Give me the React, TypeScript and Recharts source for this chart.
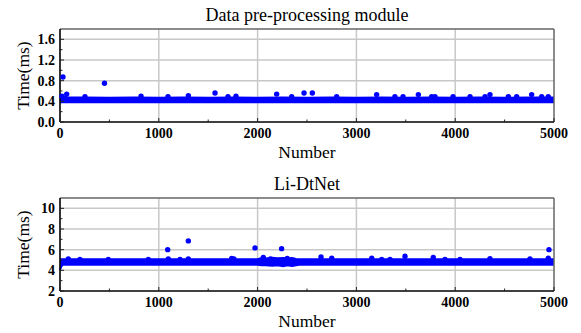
import React from 'react';
import { ComposedChart, Area, Scatter, XAxis, YAxis, ReferenceLine } from 'recharts';

// ---- shared x axis ----
const xTicks = [0, 500, 1000, 1500, 2000, 2500, 3000, 3500, 4000, 4500, 5000];
const xMajor = [1000, 2000, 3000, 4000];

// ---- top panel: Data pre-processing module ----
const topTitle = 'Data pre-processing module';
const topYTicks = [0, 0.2, 0.4, 0.6, 0.8, 1.0, 1.2, 1.4, 1.6];
const topYMajor = [0, 0.4, 0.8, 1.2, 1.6];
const topBandX = [0, 40, 80, 250, 500, 750, 1000, 1250, 1500, 1750, 2000, 2250, 2500, 2750, 3000, 3250, 3500, 3750, 4000, 4250, 4500, 4750, 5000];
const topBandLow = [0.38, 0.38, 0.38, 0.38, 0.38, 0.38, 0.38, 0.38, 0.38, 0.38, 0.38, 0.38, 0.38, 0.38, 0.38, 0.38, 0.38, 0.38, 0.38, 0.38, 0.38, 0.38, 0.38];
const topBandHigh = [0.51, 0.49, 0.48, 0.475, 0.47, 0.475, 0.47, 0.475, 0.47, 0.475, 0.47, 0.475, 0.47, 0.475, 0.47, 0.475, 0.47, 0.475, 0.47, 0.475, 0.47, 0.475, 0.475];
const topPointX = [30, 450, 20, 68, 253, 820, 1093, 1299, 1569, 1700, 1781, 2193, 2345, 2470, 2554, 2800, 3205, 3390, 3472, 3627, 3762, 3796, 3978, 4150, 4302, 4352, 4538, 4622, 4774, 4875, 4942];
const topPointY = [0.87, 0.75, 0.5, 0.54, 0.49, 0.5, 0.49, 0.51, 0.56, 0.49, 0.5, 0.54, 0.49, 0.56, 0.56, 0.49, 0.53, 0.49, 0.49, 0.53, 0.49, 0.49, 0.49, 0.49, 0.49, 0.53, 0.49, 0.49, 0.53, 0.49, 0.49];

// ---- bottom panel: Li-DtNet ----
const botTitle = 'Li-DtNet';
const botYTicks = [2, 3, 4, 5, 6, 7, 8, 9, 10];
const botYMajor = [2, 4, 6, 8, 10];
const botBandX = [0, 15, 30, 500, 1000, 1500, 2000, 2040, 2080, 2150, 2200, 2260, 2300, 2350, 2390, 2420, 2500, 3000, 3500, 4000, 4500, 5000];
const botBandLow = [4.05, 4.4, 4.55, 4.55, 4.55, 4.55, 4.55, 4.5, 4.5, 4.45, 4.5, 4.4, 4.5, 4.42, 4.5, 4.55, 4.55, 4.55, 4.55, 4.55, 4.55, 4.55];
const botBandHigh = [5.05, 5.08, 5.08, 5.08, 5.08, 5.08, 5.08, 5.2, 5.15, 5.22, 5.18, 5.2, 5.15, 5.2, 5.1, 5.08, 5.08, 5.08, 5.08, 5.08, 5.08, 5.08];
const botPointX = [1090, 1299, 1974, 2243, 4949, 84, 202, 489, 894, 1096, 1215, 1299, 1738, 1760, 2058, 2130, 2300, 2642, 2750, 3155, 3256, 3340, 3492, 3778, 3897, 4049, 4352, 4757, 4942];
const botPointY = [6.0, 6.85, 6.17, 6.1, 6.0, 5.1, 5.05, 5.05, 5.05, 5.1, 5.05, 5.1, 5.15, 5.1, 5.25, 5.1, 5.15, 5.3, 5.17, 5.18, 5.05, 5.05, 5.36, 5.25, 5.05, 5.05, 5.12, 5.1, 5.17];

const BLUE = '#0000ff';
const FONT = "'Liberation Serif', 'Times New Roman', Times, serif";

const isIn = (list: number[], v: number) => list.some((m) => Math.abs(m - v) < 1e-6);

const makeXTick = () => (props: any) => {
  const { x, y, payload } = props;
  const v = payload.value;
  const labelled = v % 1000 === 0;
  return (
    <g>
      <line x1={x} x2={x} y1={y} y2={y - (labelled ? 4 : 2.5)} stroke="#222" strokeWidth={1} />
      {labelled && (
        <text x={x} y={y + 15.5} textAnchor="middle" style={{ fontFamily: FONT, fontWeight: 700, fontSize: 14 }} fill="#000">
          {v}
        </text>
      )}
    </g>
  );
};

const makeYTick = (major: number[], fmt: (v: number) => string) => (props: any) => {
  const { x, y, payload } = props;
  const v = payload.value;
  const labelled = isIn(major, v);
  return (
    <g>
      <line x1={x} x2={x + (labelled ? 4 : 2.5)} y1={y} y2={y} stroke="#222" strokeWidth={1} />
      {labelled && (
        <text x={x - 5} y={y + 5} textAnchor="end" style={{ fontFamily: FONT, fontWeight: 700, fontSize: 14 }} fill="#000">
          {fmt(v)}
        </text>
      )}
    </g>
  );
};

const Dot = (props: any) => <circle cx={props.cx} cy={props.cy} r={2.7} fill={BLUE} />;

type PanelProps = {
  title: string;
  bandX: number[];
  bandLow: number[];
  bandHigh: number[];
  ptX: number[];
  ptY: number[];
  yDomain: [number, number];
  yTicks: number[];
  yMajor: number[];
  fmt: (v: number) => string;
  top: number;
  height: number;
  xAxisHeight: number;
};

function Panel(p: PanelProps) {
  const band = p.bandX.map((x, i) => ({ x, band: [p.bandLow[i], p.bandHigh[i]] }));
  const pts = p.ptX.map((x, i) => ({ x, y: p.ptY[i] }));
  const plotLeft = 60;
  const plotRight = 554;
  const plotTop = p.top;
  const plotBottom = p.height - p.xAxisHeight;
  return (
    <ComposedChart
      width={581}
      height={p.height}
      data={band}
      margin={{ top: p.top, right: 581 - plotRight, bottom: 0, left: 0 }}
    >
      {xMajor.map((v) => (
        <ReferenceLine key={'gx' + v} x={v} stroke="#c8c8c8" strokeWidth={1.5} zIndex={-100} />
      ))}
      {p.yMajor
        .filter((v) => v > p.yDomain[0])
        .map((v) => (
          <ReferenceLine key={'gy' + v} y={v} stroke="#c8c8c8" strokeWidth={1.5} zIndex={-100} />
        ))}
      <XAxis
        dataKey="x"
        type="number"
        domain={[0, 5000]}
        ticks={xTicks}
        interval={0}
        height={p.xAxisHeight}
        tickSize={0}
        tickMargin={0}
        tickLine={false}
        axisLine={{ stroke: '#000', strokeWidth: 1.6 }}
        tick={makeXTick()}
      />
      <YAxis
        type="number"
        domain={p.yDomain}
        ticks={p.yTicks}
        interval={0}
        width={plotLeft}
        tickSize={0}
        tickMargin={0}
        tickLine={false}
        axisLine={{ stroke: '#000', strokeWidth: 1.6 }}
        tick={makeYTick(p.yMajor, p.fmt)}
      />
      <Area
        dataKey="band"
        type="linear"
        stroke={BLUE}
        strokeWidth={2}
        fill={BLUE}
        fillOpacity={1}
        isAnimationActive={false}
        dot={false}
        activeDot={false}
      />
      <Scatter data={pts} dataKey="y" fill={BLUE} shape={Dot} isAnimationActive={false} />
      <ReferenceLine y={p.yDomain[1]} stroke="#666" strokeWidth={1.5} />
      <ReferenceLine x={5000} stroke="#666" strokeWidth={1.5} />
      <text x={(plotLeft + plotRight) / 2} y={plotTop - 8.5} textAnchor="middle" style={{ fontFamily: FONT, fontSize: 18 }} fill="#000">
        {p.title}
      </text>
      <text x={(plotLeft + plotRight) / 2} y={plotBottom + 36} textAnchor="middle" style={{ fontFamily: FONT, fontSize: 17.5 }} fill="#000">
        Number
      </text>
      <text
        x={23}
        y={(plotTop + plotBottom) / 2}
        textAnchor="middle"
        dominantBaseline="central"
        transform={`rotate(-90 23 ${(plotTop + plotBottom) / 2})`}
        style={{ fontFamily: FONT, fontSize: 17.5 }}
        fill="#000"
      >
        Time(ms)
      </text>
    </ComposedChart>
  );
}

export default function App() {
  return (
    <div style={{ position: 'absolute', left: 0, top: 0, width: 581, height: 333, background: '#fff' }}>
      <style>{'body{margin:0}'}</style>
      <div style={{ position: 'absolute', left: 0, top: 0 }}>
        <Panel
          title={topTitle}
          bandX={topBandX}
          bandLow={topBandLow}
          bandHigh={topBandHigh}
          ptX={topPointX}
          ptY={topPointY}
          yDomain={[0, 1.8]}
          yTicks={topYTicks}
          yMajor={topYMajor}
          fmt={(v) => v.toFixed(1)}
          top={29}
          height={166}
          xAxisHeight={44}
        />
      </div>
      <div style={{ position: 'absolute', left: 0, top: 166 }}>
        <Panel
          title={botTitle}
          bandX={botBandX}
          bandLow={botBandLow}
          bandHigh={botBandHigh}
          ptX={botPointX}
          ptY={botPointY}
          yDomain={[2, 11]}
          yTicks={botYTicks}
          yMajor={botYMajor}
          fmt={(v) => String(v)}
          top={32}
          height={167}
          xAxisHeight={42}
        />
      </div>
    </div>
  );
}
